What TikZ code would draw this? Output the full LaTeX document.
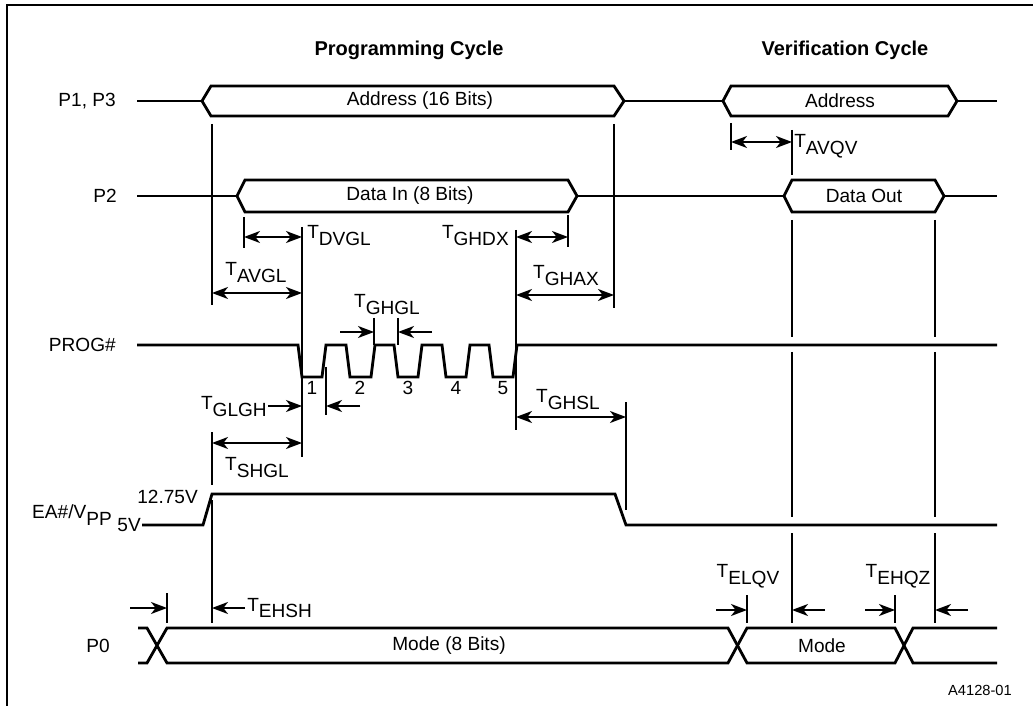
\documentclass[tikz,border=0pt]{standalone}
\usepackage{fontspec}
\setmainfont{Liberation Sans}
\usetikzlibrary{arrows.meta}
\newcommand{\Tsub}[1]{T\raisebox{-5.2pt}{#1}}
\begin{document}
\begin{tikzpicture}[x=0.75pt,y=-0.75pt,
  >={Stealth[length=12pt,width=9pt,inset=3.5pt]},
  sig/.style={line width=2.1pt, line join=miter},
  tick/.style={line width=1pt},
  frame/.style={line width=1.5pt},
  dim/.style={line width=1.3pt, <->},
  arr/.style={line width=1.3pt, ->},
  lbl/.style={font=\fontsize{14.3}{16}\selectfont, inner sep=0pt},
  ttl/.style={font=\fontsize{15}{18}\selectfont\bfseries, inner sep=0pt},
  small/.style={font=\fontsize{11}{13}\selectfont, inner sep=0pt},
]
\useasboundingbox (0,0) rectangle (1033,706);
% frame
\draw[frame] (7,706) -- (7,5) -- (1033,5);
% titles
\node[ttl] (tprog) at (409,50) {Programming Cycle};
\node[ttl] (tver) at (845,50) {Verification Cycle};
% signal names
\node[lbl, anchor=east] (lp13) at (116,101) {P1, P3};
\node[lbl, anchor=east] (lp2) at (117,196) {P2};
\node[lbl, anchor=east] (lprog) at (116,345) {PROG\#};
\node[lbl, anchor=east] (lea) at (112,515) {EA\#/V\raisebox{-5.2pt}{PP}};
\node[lbl, anchor=east] (l1275) at (198,497) {12.75V};
\node[lbl, anchor=east] (l5v) at (141,525) {5V};
\node[lbl, anchor=east] (lp0) at (110,646) {P0};
% P1, P3
\draw[sig] (137,101) -- (202,101);
\draw[sig] (202,101) -- (211,86) -- (614,86) -- (624,101) -- (614,116) -- (211,116) -- cycle;
\draw[sig] (624,101) -- (723,101);
\draw[sig] (723,101) -- (731,86) -- (948,86) -- (957,101) -- (948,116) -- (731,116) -- cycle;
\draw[sig] (957,101) -- (997,101);
\node[lbl] (addr1) at (420,101) {Address (16 Bits)};
\node[lbl] (addr2) at (840,101) {Address};
% P2
\draw[sig] (137,196) -- (237,196);
\draw[sig] (237,196) -- (245,180) -- (568,180) -- (577,196) -- (568,212) -- (245,212) -- cycle;
\draw[sig] (577,196) -- (784,196);
\draw[sig] (784,196) -- (792,180) -- (935,180) -- (944,196) -- (935,212) -- (792,212) -- cycle;
\draw[sig] (944,196) -- (997,196);
\node[lbl] (din) at (410,196) {Data In (8 Bits)};
\node[lbl] (dout) at (864,196) {Data Out};
% PROG#
\draw[sig] (137,345) -- (298,345) -- (302,377) -- (322,377) -- (326,345)
  -- (346,345) -- (350,377) -- (371,377) -- (375,345)
  -- (394,345) -- (398,377) -- (418,377) -- (422,345)
  -- (442,345) -- (446,377) -- (466,377) -- (470,345)
  -- (489,345) -- (493,377) -- (513,377) -- (517,345) -- (997,345);
\node[lbl] (n1) at (312,388) {1};
\node[lbl] (n2) at (360,388) {2};
\node[lbl] (n3) at (408,388) {3};
\node[lbl] (n4) at (456,388) {4};
\node[lbl] (n5) at (503,388) {5};
% EA#/VPP
\draw[sig] (142,525) -- (203,525) -- (212,494) -- (615,494) -- (626,525) -- (997,525);
% P0
\draw[sig] (138,628) -- (147,628) -- (167,663) -- (728,663) -- (747,628) -- (895,628) -- (913,663) -- (997,663);
\draw[sig] (138,663) -- (147,663) -- (167,628) -- (728,628) -- (747,663) -- (895,663) -- (913,628) -- (997,628);
\node[lbl] (mode1) at (449,646) {Mode (8 Bits)};
\node[lbl] (mode2) at (822,646) {Mode};
% reference lines
\draw[tick] (212,124) -- (212,305);
\draw[tick] (614,124) -- (614,308);
\draw[tick] (244,217) -- (244,248);
\draw[tick] (568,215) -- (568,247);
\draw[tick] (302,227) -- (302,457);
\draw[tick] (516,230) -- (516,430);
\draw[tick] (326,367) -- (326,415);
\draw[tick] (374,318) -- (374,345);
\draw[tick] (398,318) -- (398,345);
\draw[tick] (626,402) -- (626,510);
\draw[tick] (212,432) -- (212,485);
\draw[tick] (212,500) -- (212,623);
\draw[tick] (167,593) -- (167,623);
\draw[tick] (747,595) -- (747,623);
\draw[tick] (895,595) -- (895,623);
\draw[tick] (731,123) -- (731,150);
\draw[tick] (792,130) -- (792,175);
\draw[tick] (792,220) -- (792,337) (792,352) -- (792,517) (792,533) -- (792,623);
\draw[tick] (935,220) -- (935,337) (935,352) -- (935,517) (935,533) -- (935,623);
% timing arrows
\draw[dim] (212,293) -- (302,293);
\draw[dim] (244,237) -- (302,237);
\draw[dim] (516,237) -- (568,237);
\draw[dim] (516,295) -- (614,295);
\draw[arr] (340,332) -- (374,332);
\draw[arr] (432,332) -- (398,332);
\draw[arr] (268,406) -- (302,406);
\draw[arr] (360,406) -- (326,406);
\draw[dim] (212,443) -- (302,443);
\draw[dim] (516,417) -- (626,417);
\draw[dim] (731,142) -- (792,142);
\draw[arr] (130,608) -- (167,608);
\draw[arr] (245,608) -- (212,608);
\draw[arr] (716,610) -- (747,610);
\draw[arr] (825,610) -- (792,610);
\draw[arr] (865,610) -- (895,610);
\draw[arr] (968,610) -- (935,610);
% timing labels
\node[lbl, anchor=west] (tdvgl) at (307,236) {\Tsub{DVGL}};
\node[lbl, anchor=east] (tghdx) at (509,236) {\Tsub{GHDX}};
\node[lbl] (tavgl) at (256,273) {\Tsub{AVGL}};
\node[lbl] (tghax) at (566,276) {\Tsub{GHAX}};
\node[lbl] (tghgl) at (387,305) {\Tsub{GHGL}};
\node[lbl, anchor=east] (tglgh) at (267,407) {\Tsub{GLGH}};
\node[lbl] (tshgl) at (257,468) {\Tsub{SHGL}};
\node[lbl] (tghsl) at (568,400) {\Tsub{GHSL}};
\node[lbl, anchor=west] (tavqv) at (794,146) {\Tsub{AVQV}};
\node[lbl, anchor=west] (tehsh) at (247,608) {\Tsub{EHSH}};
\node[lbl] (telqv) at (748,576) {\Tsub{ELQV}};
\node[lbl] (tehqz) at (898,576) {\Tsub{EHQZ}};
\node[small] (fig) at (980,690) {A4128-01};
\end{tikzpicture}
\end{document}
